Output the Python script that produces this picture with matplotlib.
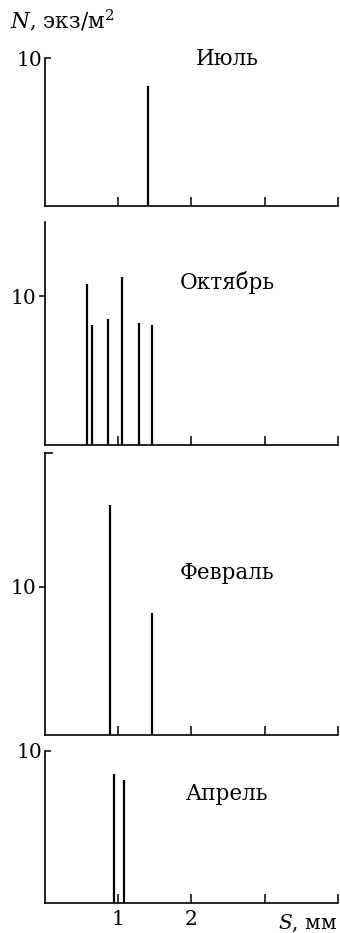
import matplotlib
matplotlib.use("Agg")
import matplotlib.pyplot as plt

plt.rcParams['font.family'] = ['DejaVu Serif']
plt.rcParams['mathtext.fontset'] = 'dejavuserif'

# data (S, mm -> N, ind/m2)
months = ["Июль", "Октябрь", "Февраль", "Апрель"]
july_s = [1.41]
july_n = [8.1]
october_s = [0.58, 0.65, 0.86, 1.06, 1.28, 1.46]
october_n = [10.8, 8.1, 8.5, 11.3, 8.2, 8.1]
february_s = [0.89, 1.47]
february_n = [15.5, 8.2]
april_s = [0.94, 1.08]
april_n = [8.5, 8.1]
x_ticks = [1, 2, 3, 4]
x_tick_labels = ["1", "2", "", ""]

W, H = 340, 933
fig = plt.figure(figsize=(W / 100, H / 100), dpi=100)

# panel geometry in pixels: (top, bottom) of axes, y max
panels = [
    (july_s, july_n, 58, 206, 10, "in", 9.9),
    (october_s, october_n, 222, 445, 15, "out", 10.9),
    (february_s, february_n, 453, 735, 19, "out", 10.9),
    (april_s, april_n, 751, 903, 10, "in", 7.2),
]
x_left, x_right = 44.7, 338
fs = 14.5
fs_label = 15.5

for i, (s, n, top, bottom, ymax, ydir, label_y) in enumerate(panels):
    ax = fig.add_axes([x_left / W, (H - bottom) / H, (x_right - x_left) / W, (bottom - top) / H])
    ax.vlines(s, 0, n, color="black", lw=1.6)
    ax.set_xlim(0, 4)
    ax.set_ylim(0, ymax)
    for side in ["top", "right"]:
        ax.spines[side].set_visible(False)
    for side in ["left", "bottom"]:
        ax.spines[side].set_linewidth(1.2)
    ax.set_xticks(x_ticks)
    ax.tick_params(axis="x", direction="in", length=6.5, width=1.1, pad=5, labelsize=fs)
    if i == len(panels) - 1:
        ax.set_xticklabels(x_tick_labels)
        ax.text(3.58, -0.062, "$S$, мм", transform=ax.get_xaxis_transform(),
                ha="center", va="top", fontsize=fs)
    else:
        ax.set_xticklabels([])
    ax.set_yticks([10])
    ax.set_yticklabels(["10"])
    ax.tick_params(axis="y", direction=ydir, length=4, width=1.1, pad=2, labelsize=fs)
    if ymax == 19:
        ax.plot([0, 0.1], [19, 19], color="black", lw=1.2, clip_on=False)
    ax.text(2.49, label_y, months[i], ha="center", va="center", fontsize=fs_label)

fig.text(10 / W, (H - 28) / H, "$N$, экз/м$^2$", ha="left", va="baseline", fontsize=fs_label)

fig.savefig("out.png", dpi=100, facecolor="white")
